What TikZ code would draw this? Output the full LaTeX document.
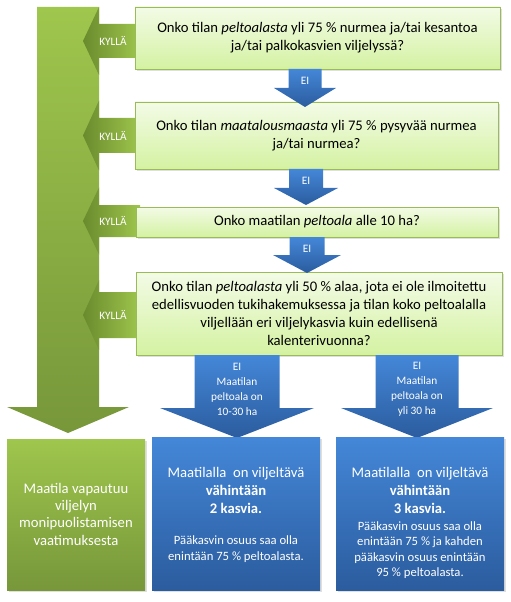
\documentclass[tikz,border=0pt]{standalone}
\usepackage{fontspec}
\setmainfont{Carlito}
\usetikzlibrary{shadings,shadows}

% colours
\definecolor{qtop}{HTML}{F3FBE6}
\definecolor{qbot}{HTML}{D4F2A2}
\definecolor{qline}{HTML}{9BBB59}
\definecolor{gtop}{HTML}{9FC64D}
\definecolor{gbot}{HTML}{77973A}
\definecolor{gdark}{HTML}{6A8B2D}
\definecolor{btop}{HTML}{4487D8}
\definecolor{bbot}{HTML}{2B5C9E}

% block arrow pointing down: x, shaft top, head top, tip, half shaft, half head, style
\newcommand{\blockdown}[7]{%
  \shade[#7] (#1-#5,#2) -- (#1+#5,#2) -- (#1+#5,#3) -- (#1+#6,#3) -- (#1,#4)
    -- (#1-#6,#3) -- (#1-#5,#3) -- cycle;}
% block arrow pointing left: y, shaft end, head base, tip, half shaft, half head, style
\newcommand{\blockleft}[7]{%
  \shade[#7] (#2,#1-#5) -- (#3,#1-#5) -- (#3,#1-#6) -- (#4,#1) -- (#3,#1+#6)
    -- (#3,#1+#5) -- (#2,#1+#5) -- cycle;}

\tikzset{
  question/.style={draw=qline, line width=0.6pt, top color=qtop, bottom color=qbot,
    align=center, inner sep=0pt, font=\fontsize{11}{13.5}\selectfont,
    drop shadow={opacity=0.25, shadow xshift=1.2pt, shadow yshift=-1.2pt}},
  result/.style={draw=none, inner sep=0pt,
    drop shadow={opacity=0.25, shadow xshift=1.2pt, shadow yshift=-1.2pt}},
  greenfill/.style={top color=gtop, bottom color=gbot},
  bluefill/.style={top color=btop, bottom color=bbot},
  yeslabel/.style={text=white, inner sep=0pt, font=\fontsize{8.5}{10}\selectfont},
  nolabel/.style={text=white, inner sep=0pt, align=center, font=\fontsize{8.5}{11.25}\selectfont},
  restext/.style={text=white, inner sep=0pt, align=center}
}

\begin{document}
\begin{tikzpicture}[x=0.75pt, y=-0.75pt]

    \useasboundingbox (0,0) rectangle (510,602);

    % big green arrow on the left
    \blockdown{68}{7}{407}{433}{31}{61}{top color=gtop, bottom color=gbot}

    % KYLLA arrows from the questions
    \blockleft{41}{140}{99}{83}{17}{34}{left color=gdark, right color=gtop}
    \blockleft{135.5}{140}{99}{83}{17.5}{35}{left color=gdark, right color=gtop}
    \blockleft{221}{140}{99}{83}{16}{33.5}{left color=gdark, right color=gtop}
    \blockleft{315}{140}{99}{83}{23}{35}{left color=gdark, right color=gtop}

    \node[yeslabel] (k1) at (113,41) {KYLLÄ};
    \node[yeslabel] (k2) at (113,135.5) {KYLLÄ};
    \node[yeslabel] (k3) at (113,221) {KYLLÄ};
    \node[yeslabel] (k4) at (113,315) {KYLLÄ};

    % question boxes
    \node[question, minimum width=273.75pt, minimum height=46.5pt] (q1) at (317.5,38)
      {Onko tilan \textit{peltoalasta} yli 75 \% nurmea ja/tai kesantoa\\ja/tai palkokasvien viljelyssä?};
    \node[question, minimum width=272.25pt, minimum height=50.25pt] (q2) at (316.5,135.5)
      {Onko tilan \textit{maatalousmaasta} yli 75 \% pysyvää nurmea\\ja/tai nurmea?};
    \node[question, minimum width=271.5pt, minimum height=22.5pt] (q3) at (317,222)
      {Onko maatilan \textit{peltoala} alle 10 ha?};
    \node[question, minimum width=274.5pt, minimum height=62.25pt] (q4) at (319,313.5)
      {Onko tilan \textit{peltoalasta} yli 50 \% alaa, jota ei ole ilmoitettu\\
       edellisvuoden tukihakemuksessa ja tilan koko peltoalalla\\
       viljellään eri viljelykasvia kuin edellisenä\\kalenterivuonna?};

    % EI arrows between the questions
    \blockdown{305}{69}{88}{107}{16.5}{31}{top color=btop, bottom color=bbot}
    \blockdown{306}{169}{188}{205}{17}{32}{top color=btop, bottom color=bbot}
    \blockdown{307}{237}{255}{273}{17.5}{34}{top color=btop, bottom color=bbot}

    \node[nolabel] (e1) at (305,81) {EI};
    \node[nolabel] (e2) at (306,181) {EI};
    \node[nolabel] (e3) at (307,249) {EI};

    % big blue arrows to the results
    \blockdown{237}{355}{408}{438}{42.5}{77}{top color=btop, bottom color=bbot}
    \blockdown{417}{355}{408}{438}{41.5}{76}{top color=btop, bottom color=bbot}

    \node[nolabel] (e4) at (237,389) {EI\\Maatilan\\peltoala on\\10-30 ha};
    \node[nolabel] (e5) at (417,389) {EI\\Maatilan\\peltoala on\\yli 30 ha};

    % result boxes
    \node[result, greenfill, minimum width=103.5pt, minimum height=113.25pt] (r1) at (76,514.5) {};
    \node[result, bluefill, minimum width=126pt, minimum height=114.75pt] (r2) at (236,513.5) {};
    \node[result, bluefill, minimum width=126pt, minimum height=114.75pt] (r3) at (420,513.5) {};

    \node[restext, font=\fontsize{11}{13}\selectfont] (t1) at (76,514)
      {Maatila vapautuu\\viljelyn\\monipuolistamisen\\vaatimuksesta};
    \node[restext, font=\fontsize{11}{13.5}\selectfont] (t2) at (236,490)
      {Maatilalla\ \ on viljeltävä\\\textbf{vähintään}\\\textbf{2 kasvia.}};
    \node[restext, font=\fontsize{9.5}{12}\selectfont] (t2b) at (236,549)
      {Pääkasvin osuus saa olla\\enintään 75 \% peltoalasta.};
    \node[restext, font=\fontsize{11}{13.5}\selectfont] (t3) at (420,490.5)
      {Maatilalla\ \ on viljeltävä\\\textbf{vähintään}\\\textbf{3 kasvia.}};
    \node[restext, font=\fontsize{9.5}{11.5}\selectfont] (t3b) at (420,550)
      {Pääkasvin osuus saa olla\\enintään 75 \% ja kahden\\pääkasvin osuus enintään\\95 \% peltoalasta.};

\end{tikzpicture}
\end{document}
